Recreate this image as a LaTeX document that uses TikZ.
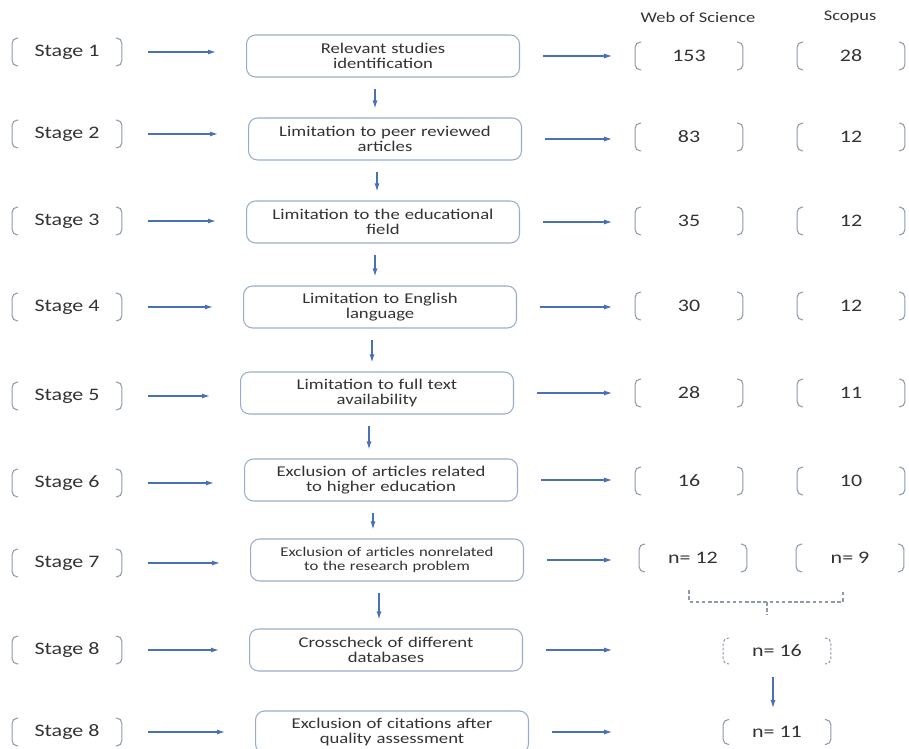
\documentclass[tikz,border=0pt]{standalone}
\usepackage{fontspec}
\setmainfont{Carlito}[FakeStretch=1.25]
\usetikzlibrary{arrows.meta}
\definecolor{flowblue}{HTML}{4A70B5}
\definecolor{boxline}{HTML}{9AADC6}
\definecolor{brkgray}{HTML}{8E9AAA}
\definecolor{txtgray}{HTML}{333333}

\begin{document}
\begin{tikzpicture}[x=0.02cm,y=-0.02cm,
    stagebox/.style={minimum width=2.18cm, minimum height=0.54cm, inner sep=0pt, text=txtgray, font=\fontsize{10}{12}\selectfont},
    countbox/.style={minimum width=2.14cm, minimum height=0.54cm, inner sep=0pt, text=txtgray, font=\fontsize{10}{12}\selectfont},
    stepbox/.style={draw=boxline, line width=0.6pt, rounded corners=0.18cm, minimum width=5.46cm, minimum height=0.84cm, text width=5.2cm, align=center, inner sep=0pt, text=txtgray, font=\fontsize{8.5}{8.2}\selectfont},
    brkline/.style={brkgray, line width=0.6pt, rounded corners=0.1cm},
    flow/.style={flowblue, line width=0.7pt, -{Latex[length=0.16cm,width=0.1cm]}},
    merge/.style={brkgray, line width=0.6pt, dash pattern=on 2pt off 1.5pt}]
  \useasboundingbox (0,0) rectangle (909,749);

  % column heads
  \node[text=txtgray, font=\fontsize{8.4}{10}\selectfont] (hwos) at (698,17) {Web of Science};
  \node[text=txtgray, font=\fontsize{8.4}{10}\selectfont] (hsco) at (850,17) {Scopus};

  % stages
  \node[stagebox] (st1) at (67,52) {Stage 1};
  \node[stagebox] (st2) at (67,134) {Stage 2};
  \node[stagebox] (st3) at (67,221) {Stage 3};
  \node[stagebox] (st4) at (67,307) {Stage 4};
  \node[stagebox] (st5) at (67,396) {Stage 5};
  \node[stagebox] (st6) at (67,483) {Stage 6};
  \node[stagebox] (st7) at (67,563) {Stage 7};
  \node[stagebox] (st8) at (67,650) {Stage 8};
  \node[stagebox] (st9) at (67,732) {Stage 8};

  % selection steps
  \node[stepbox] (b1) at (383,56) {Relevant studies\\identification};
  \node[stepbox] (b2) at (385,139) {Limitation to peer reviewed\\articles};
  \node[stepbox] (b3) at (383,222) {Limitation to the educational\\field};
  \node[stepbox] (b4) at (380,307) {Limitation to English\\language};
  \node[stepbox] (b5) at (377,393) {Limitation to full text\\availability};
  \node[stepbox] (b6) at (381,480) {Exclusion of articles related\\to higher education};
  \node[stepbox, font=\fontsize{7.6}{8.2}\selectfont] (b7) at (387,560) {Exclusion of articles nonrelated\\to the research problem};
  \node[stepbox] (b8) at (386,650) {Crosscheck of different\\databases};
  \node[stepbox] (b9) at (392,732) {Exclusion of citations after\\quality assessment};

  % counts
  \node[countbox] (w1) at (689,56) {153};
  \node[countbox] (w2) at (689,137) {83};
  \node[countbox] (w3) at (689,221) {35};
  \node[countbox] (w4) at (689,306) {30};
  \node[countbox] (w5) at (689,393) {28};
  \node[countbox] (w6) at (689,481) {16};
  \node[countbox] (w7) at (693,558) {n= 12};
  \node[countbox] (s1) at (851,56) {28};
  \node[countbox] (s2) at (851,137) {12};
  \node[countbox] (s3) at (851,221) {12};
  \node[countbox] (s4) at (851,306) {12};
  \node[countbox] (s5) at (851,393) {11};
  \node[countbox] (s6) at (851,481) {10};
  \node[countbox] (s7) at (850,558) {n= 9};
  \node[countbox, minimum height=0.5cm] (n16) at (777,651) {n= 16};
  \node[countbox, minimum height=0.48cm] (n11) at (777,732) {n= 11};

  % brackets
  \foreach \n in {st1,st2,st3,st4,st5,st6,st7,st8,st9,w1,w2,w3,w4,w5,w6,w7,s1,s2,s3,s4,s5,s6,s7,n11} {
    \draw[brkline] ([xshift=0.12cm]\n.north west) -- (\n.north west) -- (\n.south west) -- ([xshift=0.12cm]\n.south west);
    \draw[brkline] ([xshift=-0.12cm]\n.north east) -- (\n.north east) -- (\n.south east) -- ([xshift=-0.12cm]\n.south east);
  }
  \draw[brkline, dash pattern=on 1.5pt off 1pt] ([xshift=0.12cm]n16.north west) -- (n16.north west) -- (n16.south west) -- ([xshift=0.12cm]n16.south west);
  \draw[brkline, dash pattern=on 1.5pt off 1pt] ([xshift=-0.12cm]n16.north east) -- (n16.north east) -- (n16.south east) -- ([xshift=-0.12cm]n16.south east);

  % arrows
  \foreach \i in {1,...,9} {
    \draw[flow, shorten <=0.52cm, shorten >=0.6cm] (st\i.east) -- (st\i.east -| b\i.west);
    \draw[flow, shorten <=0.46cm, shorten >=0.46cm] (b\i.east) -- (b\i.east -| w1.west);
  }
  \foreach \a/\b in {b1/b2,b2/b3,b3/b4,b4/b5,b5/b6,b6/b7,b7/b8}
    \draw[flow, shorten <=0.22cm, shorten >=0.18cm] ([xshift=-0.16cm]\a.south) -- ([xshift=-0.16cm]\a.south |- \b.north);

  % merge of both databases
  \coordinate (mrg) at (767,602);
  \draw[merge] ([xshift=-0.08cm,yshift=-0.37cm]w7.south) |- (mrg) -| ([xshift=-0.14cm,yshift=-0.37cm]s7.south);
  \draw[merge] (mrg) -- ++(0,13);
  \draw[flow, shorten <=0.27cm, shorten >=0.23cm] ([xshift=-0.08cm]n16.south) -- ([xshift=-0.08cm]n16.south |- n11.north);
\end{tikzpicture}
\end{document}
